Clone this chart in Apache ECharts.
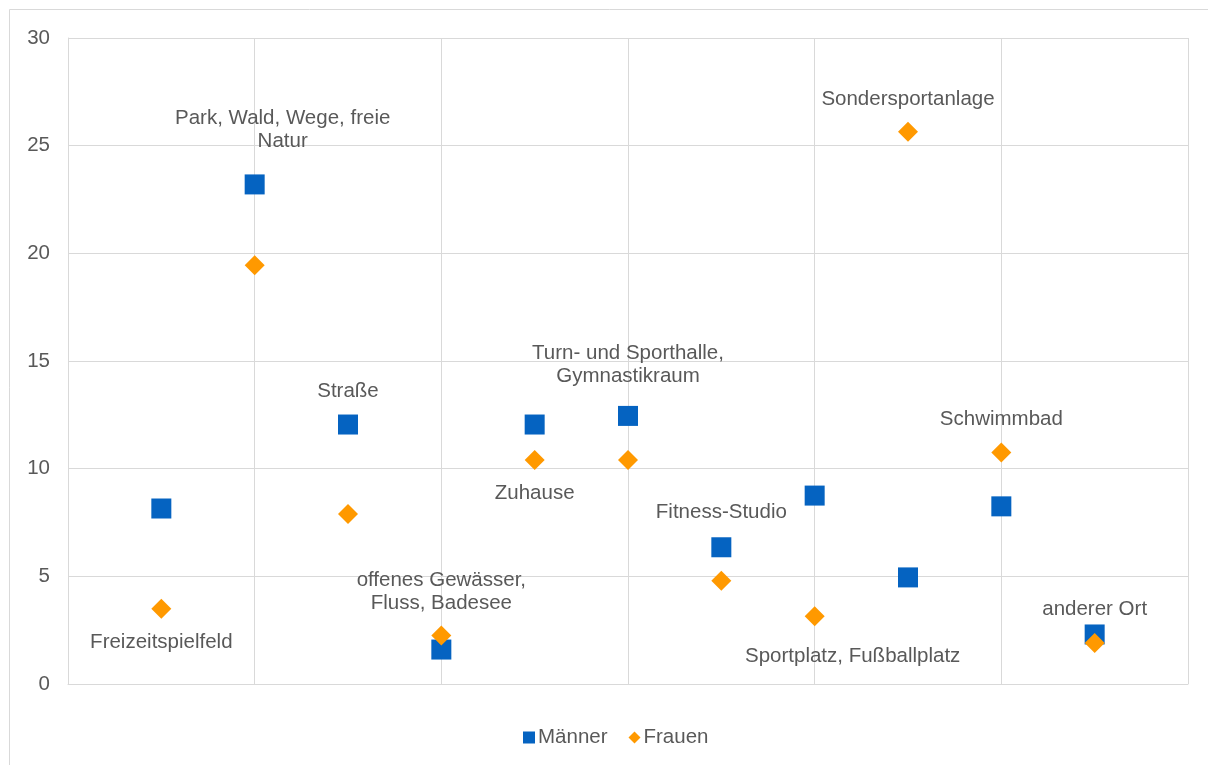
<!DOCTYPE html>
<html><head><meta charset="utf-8">
<script src="https://cdn.jsdelivr.net/npm/echarts@6/dist/echarts.min.js"></script>
<style>html,body{margin:0;padding:0;background:#fff}#c{width:1208px;height:765px}</style>
</head><body><div id="c"></div>
<script>
const categories = ['Freizeitspielfeld','Park, Wald, Wege, freie\nNatur','Straße','offenes Gewässer,\nFluss, Badesee','Zuhause','Turn- und Sporthalle,\nGymnastikraum','Fitness-Studio','Sportplatz, Fußballplatz','Sondersportanlage','Schwimmbad','anderer Ort'];
const xPositions = [1,2,3,4,5,6,7,8,9,10,11];
const maenner = [8.15, 23.2, 12.05, 1.6, 12.05, 12.45, 6.35, 8.75, 4.95, 8.25, 2.3];
const frauen  = [3.5, 19.45, 7.9, 2.25, 10.4, 10.4, 4.8, 3.15, 25.65, 10.75, 1.9];
const yTicks = [0, 5, 10, 15, 20, 25, 30];

// label placement (which series point it sits beside, and pixel offset)
const labelAnchor = ['F','M','M','F','F','M','M','F','F','F','M'];
const labelOffset = [[0,34],[28,-55],[0,-33],[0,-44],[0,33],[0,-51],[0,-35],[38,40],[0,-32],[0,-33],[0,-25]];

const textColor = '#595959';
const font = 'Liberation Sans, Arial, sans-serif';

function build(vals, key){
  return vals.map((v,i)=>({
    value:[xPositions[i], v],
    label: labelAnchor[i]===key ? {
      show:true, formatter: categories[i], position:'inside',
      offset: labelOffset[i], color:textColor, fontSize:20.5, fontFamily:font,
      lineHeight:23, align:'center', opacity:1
    } : {show:false}
  }));
}

const chart = echarts.init(document.getElementById('c'));
chart.setOption({
  animation:false,
  backgroundColor:'#fff',
  graphic:[{type:'rect', shape:{x:9.5,y:9.5,width:1220,height:780}, style:{fill:'none',stroke:'#d9d9d9',lineWidth:1}, silent:true}],
  grid:{left:68, right:20, top:38, bottom:81},
  legend:{
    top:722, left:518, itemGap:21, itemWidth:12, itemHeight:12,
    textStyle:{color:textColor, fontSize:20.5, fontFamily:font, padding:[0,0,0,-2]},
    data:[{name:'Männer', icon:'rect'},{name:'Frauen', icon:'diamond'}]
  },
  xAxis:{
    type:'value', min:0, max:12, interval:2,
    axisLabel:{show:false}, axisTick:{show:false},
    axisLine:{show:true, lineStyle:{color:'#d9d9d9'}},
    splitLine:{show:true, lineStyle:{color:'#d9d9d9', width:1}}
  },
  yAxis:{
    type:'value', min:yTicks[0], max:yTicks[yTicks.length-1], interval:5,
    axisLabel:{color:textColor, fontSize:20.5, fontFamily:font, margin:18},
    axisTick:{show:false},
    axisLine:{show:true, lineStyle:{color:'#d9d9d9'}},
    splitLine:{show:true, lineStyle:{color:'#d9d9d9', width:1}}
  },
  series:[
    {name:'Männer', type:'scatter', symbol:'rect', symbolSize:20, itemStyle:{color:'#0563C1', opacity:1}, data:build(maenner,'M'), z:2},
    {name:'Frauen', type:'scatter', symbol:'diamond', symbolSize:20, itemStyle:{color:'#FF9900', opacity:1}, data:build(frauen,'F'), z:3}
  ]
});
</script></body></html>
